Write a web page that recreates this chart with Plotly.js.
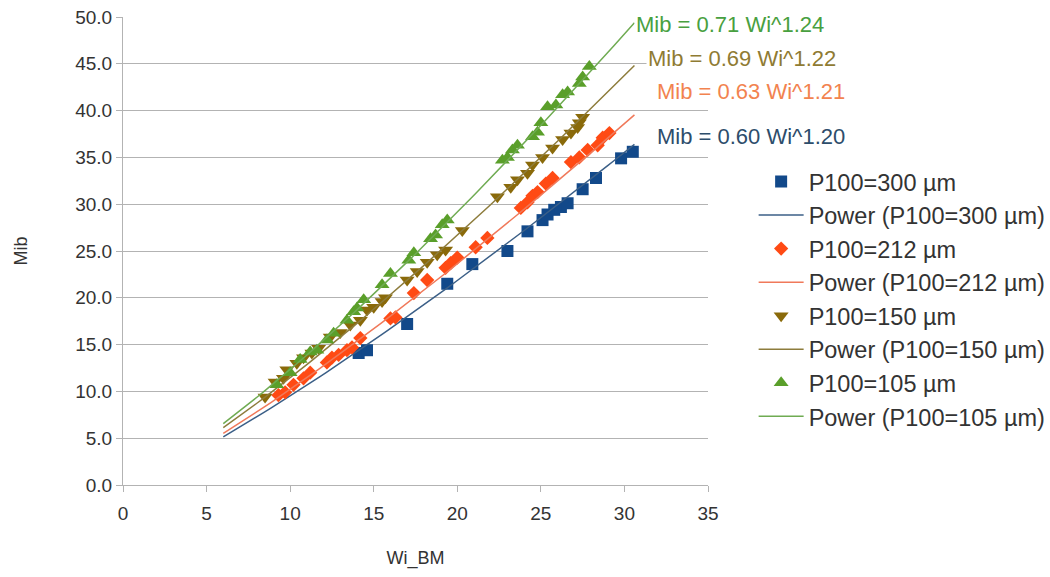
<!DOCTYPE html>
<html>
<head>
<meta charset="utf-8">
<script src="https://cdn.plot.ly/plotly-3.0.1.min.js"></script>
<style>html,body{margin:0;padding:0;background:#fff;}#chart{width:1050px;height:577px;}</style>
</head>
<body>
<div id="chart"></div>
<script>
// P100 = 300 µm
const wi300  = [14.1, 14.6, 17.0, 19.4, 20.9, 23.0, 24.2, 25.1, 25.4, 25.8, 26.2, 26.6, 27.5, 28.3, 29.8, 30.5];
const mib300 = [14.1, 14.4, 17.2, 21.5, 23.6, 25.0, 27.1, 28.3, 28.9, 29.4, 29.7, 30.1, 31.6, 32.8, 34.9, 35.6];
// P100 = 212 µm
const wi212  = [9.3, 9.7, 10.2, 10.8, 11.2, 12.2, 12.5, 12.9, 13.4, 13.7, 14.2, 16.0, 16.3, 17.4, 18.2, 19.3, 19.6, 20.0, 21.1, 21.8, 23.8, 24.2, 24.5, 24.8, 25.3, 25.7, 26.8, 27.3, 27.8, 28.4, 28.7, 29.1];
const mib212 = [9.6, 9.9, 10.7, 11.4, 12.0, 13.1, 13.6, 13.9, 14.4, 14.7, 15.7, 17.8, 17.9, 20.5, 21.9, 23.2, 23.7, 24.3, 25.4, 26.4, 29.6, 30.2, 30.9, 31.3, 32.2, 32.8, 34.5, 35.0, 35.8, 36.3, 37.1, 37.6];
// P100 = 150 µm
const wi150  = [8.5, 9.1, 9.6, 9.8, 10.4, 10.8, 11.3, 11.7, 12.4, 13.0, 13.6, 14.2, 14.6, 15.0, 15.5, 15.7, 17.0, 17.6, 18.2, 18.8, 19.3, 20.3, 22.4, 23.2, 23.6, 24.2, 24.5, 25.1, 25.7, 26.3, 26.8, 27.2, 27.3, 27.5];
const mib150 = [9.4, 11.0, 11.4, 12.3, 13.0, 13.6, 14.1, 14.6, 15.8, 16.3, 17.1, 17.6, 18.7, 19.0, 19.6, 20.0, 21.9, 22.8, 23.8, 24.6, 25.1, 27.2, 30.8, 31.8, 32.6, 33.3, 34.2, 35.0, 36.0, 36.9, 37.6, 38.2, 38.7, 39.3];
// P100 = 105 µm
const wi105  = [9.2, 10.0, 10.6, 11.2, 11.6, 12.2, 12.6, 13.4, 13.8, 14.0, 14.4, 15.5, 16.0, 17.1, 17.4, 18.4, 18.7, 19.1, 19.4, 22.7, 23.0, 23.3, 23.6, 24.5, 24.8, 25.0, 25.4, 25.9, 26.3, 26.6, 27.3, 27.5, 27.9];
const mib105 = [10.7, 12.0, 13.4, 14.2, 14.4, 15.5, 16.2, 17.6, 18.5, 18.9, 19.8, 21.4, 22.6, 24.0, 24.8, 26.3, 26.7, 27.8, 28.3, 34.7, 35.0, 35.8, 36.3, 37.2, 37.7, 38.7, 40.4, 40.6, 41.7, 42.0, 42.9, 43.6, 44.7];

// power trend lines  Mib = a * Wi^b
const seriesNames = ["P100=300 µm", "P100=212 µm", "P100=150 µm", "P100=105 µm"];
const fitA = [0.60, 0.63, 0.69, 0.71];
const fitB = [1.20, 1.21, 1.22, 1.24];
const fitRange = [6, 30.6];
const fitLabels = ["Mib = 0.60 Wi^1.20", "Mib = 0.63 Wi^1.21", "Mib = 0.69 Wi^1.22", "Mib = 0.71 Wi^1.24"];

const xs = [wi300, wi212, wi150, wi105];
const ys = [mib300, mib212, mib150, mib105];
const markerColors = ["#12498a", "#ff4a14", "#8a6a0a", "#5a9f2a"];
const lineColors = ["#3b5f87", "#f0795a", "#8d7c3c", "#6fab52"];
const labelColors = ["#2d4d6b", "#f2834f", "#8f7b33", "#48a040"];
const symbols = ["square", "diamond", "triangle-down", "triangle-up"];
const msizes = [12, 11, 13, 13];

function fitCurve(a, b) {
  const px = [], py = [];
  const n = 60;
  for (let i = 0; i <= n; i++) {
    const x = fitRange[0] + (fitRange[1] - fitRange[0]) * i / n;
    px.push(x); py.push(a * Math.pow(x, b));
  }
  return {px, py};
}

const traces = [];
for (let k = 0; k < 4; k++) {
  traces.push({
    type: "scatter", mode: "markers", name: seriesNames[k],
    x: xs[k], y: ys[k],
    marker: {symbol: symbols[k], size: msizes[k], color: markerColors[k]},
    cliponaxis: false
  });
  const c = fitCurve(fitA[k], fitB[k]);
  traces.push({
    type: "scatter", mode: "lines", name: "Power (" + seriesNames[k] + ")",
    x: c.px, y: c.py,
    line: {color: lineColors[k], width: 1.5}
  });
}

const labelPos = [[0.910, 0.744], [0.910, 0.840], [0.894, 0.912], [0.873, 0.983]];
const annotations = fitLabels.map((t, k) => ({
  xref: "paper", yref: "paper", x: labelPos[k][0], y: labelPos[k][1],
  xanchor: "left", yanchor: "middle", text: t, showarrow: false,
  font: {family: "Liberation Sans, Arial, sans-serif", size: 22, color: labelColors[k]},
  bgcolor: "#ffffff", borderpad: 1
}));

const font = {family: "Liberation Sans, Arial, sans-serif", color: "#333333"};

const layout = {
  width: 1050, height: 577,
  margin: {l: 123, r: 342, t: 17, b: 92, autoexpand: false},
  paper_bgcolor: "#ffffff", plot_bgcolor: "#ffffff",
  font: font,
  showlegend: true,
  legend: {
    x: 1.078, y: 0.695, xanchor: "left", yanchor: "top",
    font: {family: "Liberation Sans, Arial, sans-serif", size: 23.5, color: "#333333"},
    itemwidth: 45, tracegroupgap: 0, bgcolor: "rgba(0,0,0,0)"
  },
  xaxis: {
    range: [0, 35], dtick: 5, tick0: 0, showgrid: false, zeroline: false,
    showline: true, linecolor: "#b3b3b3", linewidth: 1,
    ticks: "outside", ticklen: 6, tickcolor: "#b3b3b3", ticklabelstandoff: 5,
    tickfont: {size: 19, color: "#333333"},
    title: {text: "Wi_BM", font: {size: 18, color: "#333333"}, standoff: 28}
  },
  yaxis: {
    range: [0, 50], dtick: 5, tick0: 0, tickformat: ".1f",
    showgrid: true, gridcolor: "#b3b3b3", gridwidth: 1, zeroline: false,
    showline: true, linecolor: "#b3b3b3", linewidth: 1,
    ticks: "outside", ticklen: 6, tickcolor: "#b3b3b3",
    tickfont: {size: 19, color: "#333333"},
    title: {text: "Mib", font: {size: 18, color: "#333333"}, standoff: 42}
  },
  annotations: annotations
};

Plotly.newPlot("chart", traces, layout, {displayModeBar: false, staticPlot: true});
</script>
</body>
</html>
